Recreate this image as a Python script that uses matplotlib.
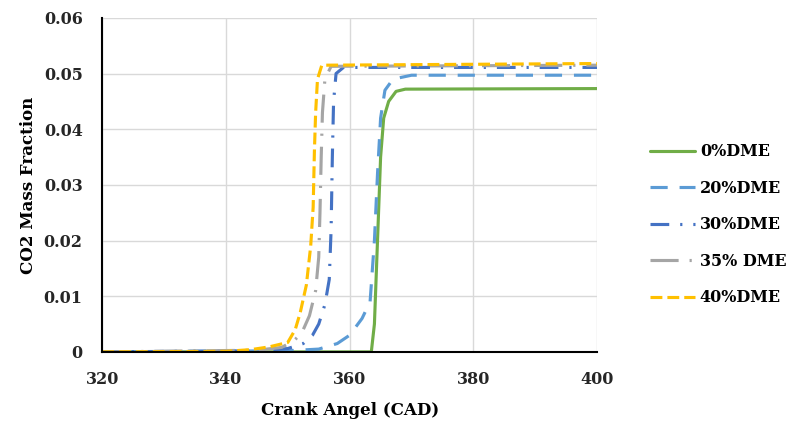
import numpy as np
import matplotlib
matplotlib.use('Agg')
import matplotlib.pyplot as plt

# crank angle / CO2 mass fraction
cad_0 = [320, 363.5, 364.0, 364.5, 365.0, 365.5, 366.3, 367.5, 369.0, 400]
co2_0 = [0, 0, 0.005, 0.020, 0.035, 0.042, 0.045, 0.0468, 0.0472, 0.0473]

cad_20 = [320, 350, 355, 358, 360, 362, 363.3, 364.0, 364.5, 365.0, 365.7, 367.0, 370.0, 400]
co2_20 = [0, 0.0002, 0.0005, 0.0015, 0.003, 0.006, 0.009, 0.020, 0.032, 0.042, 0.047, 0.049, 0.0497, 0.0497]

cad_30 = [320, 345, 350, 352.5, 354, 355, 356, 356.7, 357.0, 357.2, 357.4, 357.8, 359, 400]
co2_30 = [0, 0.0002, 0.0006, 0.0015, 0.003, 0.005, 0.0085, 0.013, 0.022, 0.035, 0.045, 0.050, 0.0511, 0.0511]

cad_35 = [320, 345, 349, 351, 352.3, 353.5, 354.5, 355.0, 355.2, 355.4, 355.6, 356.0, 357.0, 400]
co2_35 = [0, 0.0003, 0.0008, 0.002, 0.0035, 0.0065, 0.011, 0.017, 0.025, 0.035, 0.043, 0.049, 0.0513, 0.0515]

cad_40 = [320, 340, 344, 347, 350, 351.2, 352, 353, 353.7, 354.1, 354.3, 354.5, 354.8, 355.5, 400]
co2_40 = [0, 0.0001, 0.0004, 0.0009, 0.0017, 0.004, 0.007, 0.012, 0.019, 0.026, 0.036, 0.043, 0.049, 0.0515, 0.0518]

labels = ['0%DME', '20%DME', '30%DME', '35% DME', '40%DME']
x_ticks = [320, 340, 360, 380, 400]
y_ticks = [0, 0.01, 0.02, 0.03, 0.04, 0.05, 0.06]
y_tick_labels = ['0', '0.01', '0.02', '0.03', '0.04', '0.05', '0.06']

plt.rcParams['font.family'] = ['DejaVu Serif']
plt.rcParams['font.weight'] = 'bold'

fig = plt.figure(figsize=(7.92, 4.26), dpi=100)
ax = fig.add_axes([0.129, 0.174, 0.625, 0.784])

lw = 2.25
ax.plot(cad_0, co2_0, color='#70AD47', lw=lw, label=labels[0], solid_capstyle='round')
ax.plot(cad_20, co2_20, color='#5B9BD5', lw=lw, label=labels[1], dashes=(5.5, 3.8))
ax.plot(cad_30, co2_30, color='#4472C4', lw=lw, label=labels[2], dashes=(6, 3.5, 0.7, 3.5))
ax.plot(cad_35, co2_35, color='#A5A5A5', lw=lw, label=labels[3], dashes=(9, 3.5, 0.7, 3.5))
ax.plot(cad_40, co2_40, color='#FFC000', lw=lw, label=labels[4], dashes=(3.8, 1.6))

ax.set_xlim(320, 400)
ax.set_ylim(0, 0.06)
ax.set_xticks(x_ticks)
ax.set_yticks(y_ticks)
ax.set_yticklabels(y_tick_labels)
ax.tick_params(length=0, labelsize=11.5)
ax.tick_params(axis='y', pad=14)
ax.tick_params(axis='x', pad=14)
for lab in ax.get_xticklabels() + ax.get_yticklabels():
    lab.set_fontweight('bold')
    lab.set_color('#262626')

ax.grid(True, color='#D9D9D9', lw=1)
ax.set_axisbelow(True)
for s in ['top', 'right']:
    ax.spines[s].set_visible(False)
ax.spines['left'].set_color('black')
ax.spines['bottom'].set_color('black')
ax.spines['left'].set_linewidth(1.5)
ax.spines['bottom'].set_linewidth(1.5)

ax.set_xlabel('Crank Angel (CAD)', fontsize=12, fontweight='bold', labelpad=10)
ax.set_ylabel('CO2 Mass Fraction', fontsize=12, fontweight='bold', labelpad=5)

leg = fig.legend(loc='center left', bbox_to_anchor=(0.803, 0.472), frameon=False,
                 fontsize=11.5, handlelength=2.8, labelspacing=1.22, handletextpad=0.3)
for t in leg.get_texts():
    t.set_fontweight('bold')

fig.savefig('out.png', dpi=100)
